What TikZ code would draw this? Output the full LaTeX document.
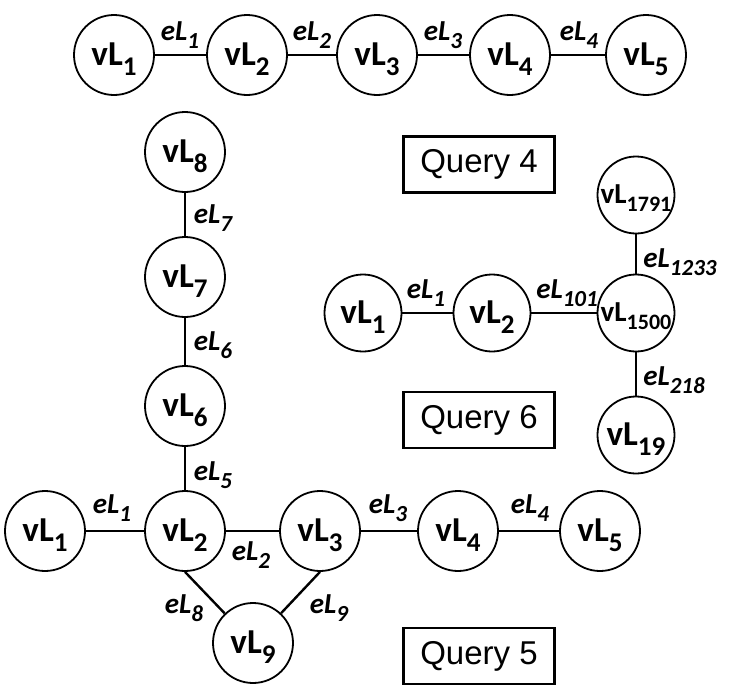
\documentclass[tikz,border=0pt]{standalone}
\usepackage{fontspec}
\setmainfont{Carlito}
\newfontfamily\qfont{Liberation Sans}
\usepackage{tikz}
\newcommand{\vl}[2][27]{\textbf{vL\raisebox{-0.3em}{\fontsize{#1}{#1}\selectfont #2}}}
\newcommand{\el}[1]{\textbf{\textit{eL\raisebox{-0.27em}{\fontsize{23}{23}\selectfont #1}}}}
\tikzset{
    VNode/.style = {circle,draw,line width=1.8pt,minimum size=80pt,inner sep=0pt,
        font=\fontsize{35}{40}\selectfont,text height=22pt,text depth=2pt},
    VSmall/.style = {VNode,minimum size=77pt},
    VTiny/.style = {VSmall,font=\fontsize{29}{34}\selectfont,text height=18pt,text depth=2pt},
    ELabel/.style = {inner sep=0pt,font=\fontsize{29}{34}\selectfont},
    QBox/.style = {draw,line width=2.4pt,minimum width=151pt,minimum height=56pt,
        inner sep=0pt,font=\qfont\fontsize{33}{38}\selectfont},
    Edge/.style = {line width=2.4pt}
}
\begin{document}
\begin{tikzpicture}[x=1pt,y=-1pt]
        \useasboundingbox (0,0) rectangle (732,697);
        % query 4
        \foreach \i/\x in {1/114,2/247,3/377,4/510,5/646}
            {\node[VNode] (t\i) at (\x,55) {\vl{\i}};}
        \foreach \a/\b in {1/2,2/3,3/4,4/5}
            {\draw[Edge] (t\a) -- (t\b);}
        \foreach \i/\x in {1/180,2/312,3/443,4/579}
            {\node[ELabel] (te\i) at (\x,35) {\el{\i}};}
        \node[QBox] (q4) at (479,164.5) {Query 4};
        % query 5
        \foreach \i/\x in {1/45,2/185,3/320,4/458,5/600}
            {\node[VNode] (b\i) at (\x,531) {\vl{\i}};}
        \foreach \i/\y in {8/152,7/277,6/406}
            {\node[VNode] (b\i) at (185,\y) {\vl{\i}};}
        \node[VNode] (b9) at (253,643) {\vl{9}};
        \foreach \a/\b in {1/2,2/3,3/4,4/5,8/7,7/6,6/2}
            {\draw[Edge] (b\a) -- (b\b);}
        \draw[Edge] (b2.south) -- (b9);
        \draw[Edge] (b3.south) -- (b9);
        \foreach \i/\x/\y in {1/112/508,2/251/555,3/388/508,4/530/508,
                              5/213/475,6/213/345,7/213/218,8/184/608,9/329/608}
            {\node[ELabel] (be\i) at (\x,\y) {\el{\i}};}
        \node[QBox] (q5) at (479,656) {Query 5};
        % query 6
        \node[VSmall] (s1) at (363,313) {\vl{1}};
        \node[VSmall] (s2) at (492,313) {\vl{2}};
        \node[VTiny] (s1500) at (636,313) {\vl[22]{1500}};
        \node[VTiny] (s1791) at (636,195) {\vl[22]{1791}};
        \node[VSmall] (s19) at (636,435) {\vl{19}};
        \draw[Edge] (s1) -- (s2);
        \draw[Edge] (s2) -- (s1500);
        \draw[Edge] (s1791) -- (s1500);
        \draw[Edge] (s1500) -- (s19);
        \node[ELabel] (se1) at (426,293) {\el{1}};
        \node[ELabel] (se101) at (567,293) {\el{101}};
        \node[ELabel] (se1233) at (680,262) {\el{1233}};
        \node[ELabel] (se218) at (674,380) {\el{218}};
        \node[QBox] (q6) at (479,420) {Query 6};
\end{tikzpicture}
\end{document}
